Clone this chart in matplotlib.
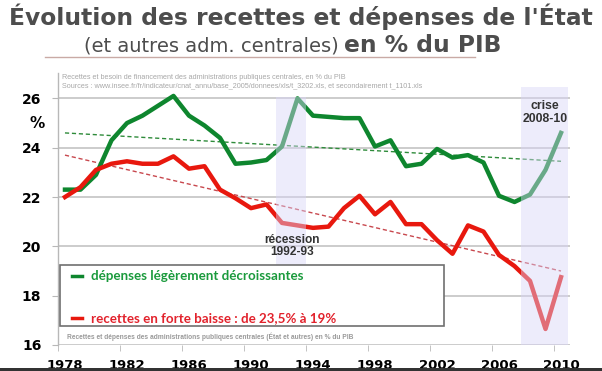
"""
Recettes et dépenses de l'État (et autres adm. centrales) en % du PIB, 1978-2010.
"""

import matplotlib
matplotlib.use("Agg")
import matplotlib.pyplot as plt
from matplotlib.patches import Rectangle
from matplotlib.lines import Line2D

# --- data ---
years = list(range(1978, 2011))
depenses = [22.3, 22.3, 22.9, 24.3, 25.0, 25.3, 25.7, 26.1, 25.3, 24.9,
            24.4, 23.35, 23.4, 23.5, 24.05, 26.0, 25.3, 25.25, 25.2, 25.2,
            24.05, 24.3, 23.25, 23.35, 23.95, 23.6, 23.7, 23.4, 22.05, 21.8,
            22.1, 23.1, 24.6]
recettes = [22.0, 22.4, 23.1, 23.35, 23.45, 23.35, 23.35, 23.65, 23.15, 23.25,
            22.3, 21.95, 21.55, 21.7, 20.95, 20.85, 20.75, 20.8, 21.55, 22.05,
            21.3, 21.8, 20.9, 20.9, 20.25, 19.7, 20.85, 20.6, 19.65, 19.2,
            18.6, 16.65, 18.75]
trend_years = [1978, 2010]
trend_dep = [24.6, 23.45]
trend_rec = [23.7, 19.0]
# (start, end, bottom, top) of the shaded periods
bands = [(1991.6, 1993.55, 19.25, 26.05), (2007.45, 2010.45, 16, 26.45)]
yticks = [16, 18, 20, 22, 24, 26]
xticks = list(range(1978, 2011, 4))

GREEN = "#0e862e"
RED = "#e8180e"
GRID = "#c4c4c4"
TITLE = "#4d4d4d"

fig = plt.figure(figsize=(6.02, 3.71), dpi=100)
ax = fig.add_axes([58 / 602, 1 - 345 / 371, 512 / 602, 272 / 371])
ax.set_xlim(1977.55, 2010.58)
ax.set_ylim(16, 27.03)

# grid + axes
for y in yticks:
    ax.axhline(y, color=GRID, lw=1.2, zorder=1)
for s in ["top", "right", "bottom"]:
    ax.spines[s].set_visible(False)
ax.spines["left"].set_color("#b8b8b8")
ax.spines["left"].set_linewidth(1.0)

ax.set_yticks(yticks)
ax.set_yticklabels([str(v) for v in yticks], fontsize=10, fontweight="bold")
ax.tick_params(axis="y", length=4, color="#b8b8b8", pad=8)
ax.set_xticks(xticks)
ax.set_xticklabels([str(v) for v in xticks], fontsize=9.5, fontweight="bold")
ax.tick_params(axis="x", length=0, pad=10)
ax.set_xticks([x - 0.45 for x in xticks], minor=True)
ax.tick_params(axis="x", which="minor", length=4, color="#b8b8b8", direction="out")

ax.text(-0.041, 25.0, "%", transform=ax.get_yaxis_transform(), ha="center",
        va="center", fontsize=11, fontweight="bold")

# trend lines
ax.plot(trend_years, trend_dep, ls=(0, (3, 2)), color="#2e8b3a", lw=1.0, zorder=2)
ax.plot(trend_years, trend_rec, ls=(0, (3, 2)), color="#c8484e", lw=1.0, zorder=2)

# series
ax.plot(years, depenses, color=GREEN, lw=3.2, solid_joinstyle="round", zorder=3)
ax.plot(years, recettes, color=RED, lw=3.2, solid_joinstyle="round", zorder=3)

# shaded periods, washing out the lines underneath
for x0, x1, y0, y1 in bands:
    ax.add_patch(Rectangle((x0, y0), x1 - x0, y1 - y0, facecolor="#d9d5f8",
                           edgecolor="none", alpha=0.45, zorder=4))

ax.text(1992.65, 20.02, "récession\n1992-93", ha="center", va="center",
        fontsize=8.6, fontweight="bold", family="Liberation Sans",
        color="#333333", linespacing=1.05, zorder=6)
ax.text(2008.97, 25.43, "crise\n2008-10", ha="center", va="center",
        fontsize=8.8, fontweight="bold", family="Liberation Sans",
        color="#333333", linespacing=1.05, zorder=6)

# legend box
ax.add_patch(Rectangle((0.004, 0.0699), 0.75, 0.224, transform=ax.transAxes,
                       facecolor="white", edgecolor="#707070", lw=1.2, zorder=7))
ax.add_line(Line2D([0.027, 0.047], [0.2555, 0.2555], transform=ax.transAxes,
                   color=GREEN, lw=2.5, zorder=8))
ax.add_line(Line2D([0.027, 0.047], [0.0993, 0.0993], transform=ax.transAxes,
                   color=RED, lw=2.5, zorder=8))
ax.text(0.064, 0.2555, "dépenses légèrement décroissantes", transform=ax.transAxes,
        va="center", fontsize=9.6, fontweight="bold", family="Lato",
        color="#1a9a3c", zorder=8)
ax.text(0.064, 0.0993, "recettes en forte baisse : de 23,5% à 19%",
        transform=ax.transAxes, va="center", fontsize=9.6, fontweight="bold",
        family="Lato", color="#e2222c", zorder=8)
ax.text(0.017, 0.03, "Recettes et dépenses des administrations publiques centrales "
        "(État et autres) en % du PIB", transform=ax.transAxes, va="center",
        fontsize=4.8, fontweight="bold", family="Liberation Sans",
        color="#9a9a9a", zorder=8)

# source lines at top of the plot
ax.text(0.008, 0.985, "Recettes et besoin de financement des administrations "
        "publiques centrales, en % du PIB", transform=ax.transAxes, va="center",
        fontsize=5.2, family="Liberation Sans", color="#a8a8a8")
ax.text(0.008, 0.952, "Sources : www.insee.fr/fr/indicateur/cnat_annu/base_2005/"
        "donnees/xls/t_3202.xls, et secondairement t_1101.xls",
        transform=ax.transAxes, va="center", fontsize=5.2,
        family="Liberation Sans", color="#a8a8a8")

# titles
fig.text(0.5, 1 - 25 / 371, "Évolution des recettes et dépenses de l'État",
         ha="center", va="baseline", fontsize=16.8, fontweight="bold",
         color=TITLE)
fig.text(339 / 602, 1 - 51.7 / 371, "(et autres adm. centrales)", ha="right",
         va="baseline", fontsize=14, color=TITLE)
fig.text(344 / 602, 1 - 51.7 / 371, "en % du PIB", ha="left", va="baseline",
         fontsize=16.8, fontweight="bold", color=TITLE)
fig.add_artist(Line2D([45 / 602, 475 / 602], [1 - 57.3 / 371, 1 - 57.3 / 371],
                      color="#c9aaa5", lw=1.0))

# dark strip at the bottom of the image
fig.add_artist(Rectangle((0, 0), 1, 3 / 371, facecolor="#333333",
                         edgecolor="none", transform=fig.transFigure))

fig.savefig("out.png", dpi=100)
